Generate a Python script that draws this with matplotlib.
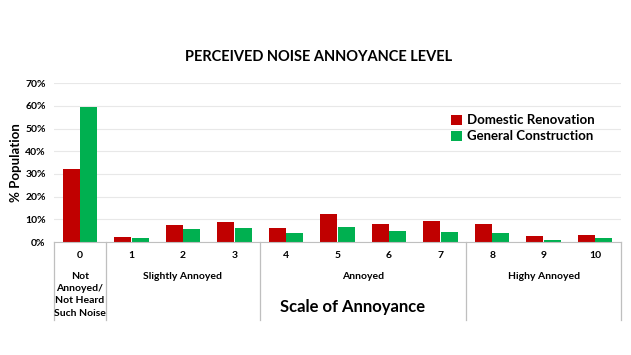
import matplotlib
matplotlib.use("Agg")
import matplotlib.pyplot as plt
import matplotlib.ticker as mticker
import numpy as np

categories = ["0", "1", "2", "3", "4", "5", "6", "7", "8", "9", "10"]
domestic = [32.3, 2.2, 7.5, 8.8, 6.0, 12.2, 7.9, 9.4, 8.1, 2.6, 3.2]
general = [59.7, 1.9, 5.7, 6.2, 3.8, 6.6, 4.9, 4.4, 4.0, 1.0, 1.8]
groups = ["Not\nAnnoyed/\nNot Heard\nSuch Noise", "Slightly Annoyed", "Annoyed", "Highy Annoyed"]
group_spans = [(0, 0), (1, 3), (4, 7), (8, 10)]

plt.rcParams["font.family"] = ["Lato", "DejaVu Sans"]

fig = plt.figure(figsize=(6.31, 3.55), dpi=100)
ax = fig.add_axes([54 / 631, 1 - 242 / 355, 567 / 631, (242 - 83.3) / 355])

x = np.arange(len(categories))
w = 0.33
ax.bar(x - 0.17, np.array(domestic) / 100, w, color="#C00000", label="Domestic Renovation")
ax.bar(x + 0.17, np.array(general) / 100, w, color="#00B050", label="General Construction")

ax.set_xlim(-0.5, len(categories) - 0.5)
ax.set_ylim(0, 0.7)
ax.yaxis.set_major_locator(mticker.MultipleLocator(0.1))
ax.yaxis.set_major_formatter(mticker.PercentFormatter(1.0, decimals=0))
ax.grid(axis="y", color="#e8e8e8", linewidth=0.8)
ax.set_axisbelow(True)
for s in ["top", "right", "left"]:
    ax.spines[s].set_visible(False)
ax.spines["bottom"].set_color("#bfbfbf")
ax.tick_params(axis="y", length=0, labelsize=7.5, pad=6)
ax.tick_params(axis="x", length=0, labelbottom=False)
for lbl in ax.get_yticklabels():
    lbl.set_fontweight("bold")

ax.set_ylabel("% Population", fontsize=9.5, fontweight="bold", labelpad=2)

# category numbers below the axis
tr = ax.get_xaxis_transform()
for i, c in enumerate(categories):
    ax.text(i, -0.088, c, ha="center", va="center", fontsize=7.5, fontweight="bold",
            transform=tr, clip_on=False)

# group labels and separators
for (a, b), g in zip(group_spans, groups):
    mid = (a + b) / 2
    ax.text(mid, -0.19, g, ha="center", va="top", fontsize=7.5, fontweight="bold",
            linespacing=1.45, transform=tr, clip_on=False)
bounds = [-0.5] + [b + 0.5 for a, b in group_spans]
for bx in bounds:
    ax.plot([bx, bx], [0, -(320 - 242) / (242 - 83.3)], color="#bfbfbf", linewidth=0.9,
            transform=tr, clip_on=False)

ax.text(5.3, -0.41, "Scale of Annoyance", ha="center", va="center", fontsize=12,
        fontweight="bold", transform=tr, clip_on=False)

fig.text(318.5 / 631, 1 - 57 / 355, "PERCEIVED NOISE ANNOYANCE LEVEL", ha="center", va="center",
         fontsize=10.5, fontweight="bold")

ax.legend(loc="upper left", bbox_to_anchor=(446 / 631, 1 - 109 / 355), bbox_transform=fig.transFigure,
          frameon=False, borderaxespad=0, handlelength=0.8, handleheight=0.8, handletextpad=0.4,
          labelspacing=0.3, prop={"weight": "bold", "size": 9.5})

fig.savefig("out.png", dpi=100)
